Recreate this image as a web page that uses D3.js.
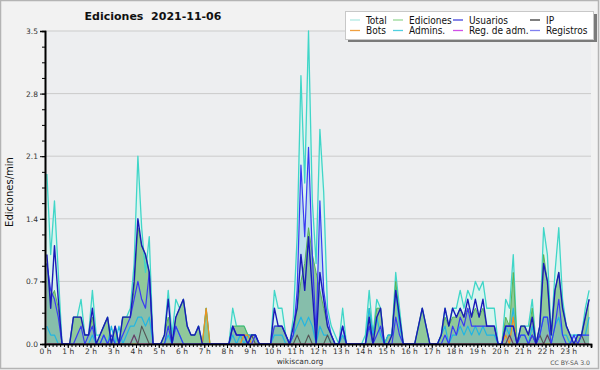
<!DOCTYPE html>
<html>
<head>
<meta charset="utf-8">
<script src="https://cdn.jsdelivr.net/npm/d3@7"></script>
<style>
  html, body { margin: 0; padding: 0; background: #f2f2f2; }
  svg { display: block; font-family: "DejaVu Sans", sans-serif; }
</style>
</head>
<body>
<div id="chart"></div>
<script>
// edits per minute, 10-minute bins (144 per day)
const total = [
  1.9,1.0,1.6,0.8,0,0,  0,0.3,0.3,0.5,0.1,0.1,  0.6,0.1,0.1,0.2,0.3,0,  0.2,0,0.3,0.3,0.4,0.9,
  2.1,1.3,0.8,1.2,0,0,  0,0.1,0.6,0.1,0.5,0.4,  0.5,0.2,0.1,0.1,0.2,0,  0.4,0,0,0,0,0,
  0,0.4,0.2,0.2,0.2,0.1,  0.1,0.1,0,0,0,0,  0.6,0.4,0.4,0.1,0,0.3,  1.2,3.0,1.8,3.5,1.6,0.9,
  2.4,1.7,0.4,0.2,0.1,0,  0.4,0,0,0,0,0,  0.1,0.6,0.1,0.5,0.4,0,  0.1,0.1,0.8,0.4,0,0,
  0,0,0.2,0.4,0.2,0,  0,0,0.1,0.4,0.2,0.4,  0.4,0.6,0.4,0.6,0.5,0.7,  0.6,0.7,0.4,0.4,0.4,0,
  0,0.5,0.4,1.0,0,0.2,  0.2,0.2,0.5,0,0.2,1.3,  1.0,0.1,0.8,1.3,0.5,0.2,  0.1,0.1,0.1,0.1,0.4,0.6
];
const ediciones = [
  0.9,0.5,0.6,0.4,0,0,  0,0.3,0.3,0.3,0.1,0.1,  0.3,0,0.1,0.2,0.3,0,  0.2,0,0.3,0.3,0.3,0.6,
  1.3,1.1,1.0,0.8,0,0,  0,0.1,0.3,0,0.3,0.4,  0.5,0.2,0.1,0.1,0.2,0,  0.4,0,0,0,0,0,
  0,0.2,0.2,0.2,0.2,0.1,  0.1,0.1,0,0,0,0,  0.2,0.2,0.2,0.1,0,0.1,  0.4,0.7,0.9,1.3,1.0,0.8,
  0.6,0.4,0.2,0.1,0,0,  0.1,0,0,0,0,0,  0,0.4,0.1,0.4,0.4,0,  0.1,0.1,0.7,0.3,0,0,
  0,0,0.2,0.4,0.2,0,  0,0,0.1,0.3,0.2,0.3,  0.3,0.4,0.3,0.4,0.3,0.4,  0.3,0.4,0.2,0.2,0.2,0,
  0,0.3,0.2,0.8,0,0.2,  0.2,0.1,0.4,0,0.2,1.0,  0.7,0.1,0.6,0.8,0.4,0.2,  0.1,0,0.1,0.1,0.3,0.5
];
const usuarios = [
  1.0,0.4,1.1,0.5,0,0,  0,0.3,0.3,0.3,0.1,0.1,  0.4,0,0.1,0.2,0.3,0,  0.2,0,0.3,0.3,0.3,0.7,
  1.4,1.1,1.0,0.8,0,0,  0,0.1,0.5,0,0.3,0.4,  0.5,0.2,0.1,0.1,0.2,0,  0,0,0,0,0,0,
  0,0.2,0.1,0.1,0.1,0,  0.1,0.1,0,0,0,0,  0.4,0.2,0.2,0.1,0,0.2,  0.4,1.0,0.6,1.2,0.6,0,
  0.8,0.5,0.2,0.1,0,0,  0.2,0,0,0,0,0,  0,0.3,0,0.3,0.4,0,  0,0.1,0.6,0.3,0,0,
  0,0,0.2,0.4,0.2,0,  0,0,0.1,0.4,0.2,0.4,  0.3,0.4,0.3,0.5,0.3,0.5,  0.3,0.5,0.2,0.2,0.2,0,
  0,0.2,0.2,0.2,0,0.2,  0.2,0.1,0.3,0,0.2,0.9,  0.7,0.1,0.6,0.8,0.4,0.2,  0.1,0,0.1,0.1,0.3,0.5
];
const registros = [
  0.9,0.6,0.5,0.3,0,0,  0,0,0.1,0.2,0,0.1,  0.2,0,0,0.1,0,0.1,  0,0,0.1,0.2,0.3,0.5,
  0.7,0.5,0.4,0.8,0,0,  0,0,0.2,0,0.2,0.1,  0,0,0,0,0,0,  0,0,0,0,0,0,
  0,0.2,0.1,0.1,0.1,0,  0,0.1,0,0,0,0,  0.2,0.2,0.2,0.1,0,0.1,  0.6,2.0,1.2,2.2,1.0,0.1,
  1.6,0.6,0.3,0.1,0,0,  0.2,0,0,0,0,0,  0,0.2,0,0.1,0.2,0,  0,0,0.3,0.1,0,0,
  0,0,0,0,0,0,  0,0,0,0.1,0,0.2,  0.1,0.3,0.2,0.4,0.2,0.2,  0.2,0.2,0.2,0.2,0.2,0,
  0,0.2,0.2,0.2,0,0.1,  0.1,0,0.1,0,0.1,0.3,  0.3,0,0.2,0.5,0.1,0,  0,0.1,0,0.1,0.1,0.1
];
const admins = [
  0.2,0.1,0.1,0,0,0,  0,0,0,0,0,0,  0.1,0,0,0.1,0,0.2,  0,0.2,0,0.1,0.2,0.2,
  0.3,0.3,0.2,0.3,0,0,  0,0,0.1,0,0.2,0.1,  0,0,0,0,0,0,  0,0,0,0,0,0,
  0,0.1,0,0.1,0,0.1,  0.1,0.1,0,0,0,0,  0.1,0.1,0.1,0,0,0.1,  0.2,0.3,0.2,0.3,0.2,0,
  0.2,0.1,0.1,0,0,0,  0.1,0,0,0,0,0,  0,0.4,0.1,0.3,0.1,0,  0.1,0.1,0.6,0.2,0,0,
  0,0,0,0,0,0,  0,0,0.1,0.2,0,0.1,  0.1,0.2,0.1,0.2,0.1,0.2,  0.1,0.2,0.1,0.1,0.1,0,
  0,0.2,0.1,0.4,0,0.1,  0.1,0,0.2,0,0.1,0.3,  0.3,0,0.2,0.3,0.1,0.1,  0,0.1,0.1,0.1,0.1,0.3
];
const ip = new Array(144).fill(0);
[[23,0.1],[25,0.2],[26,0.1],[54,0.1],[66,0.1],[69,0.1],[74,0.1],[122,0.1],[128,0.1],[130,0.1],[132,0.1],[141,0.1]]
  .forEach(([i, v]) => { ip[i] = v; });
const bots = new Array(144).fill(0);
[[42,0.4],[52,0.1],[53,0.1],[121,0.1],[123,0.3]].forEach(([i, v]) => { bots[i] = v; });
const regAdm = new Array(144).fill(0);
[[23,0.1],[122,0.1],[132,0.1]].forEach(([i, v]) => { regAdm[i] = v; });

const hourLabels = d3.range(24).map(h => h + " h");
const yMajor = [0, 0.7, 1.4, 2.1, 2.8, 3.5];

const legendItems = [
  { name: "Total", color: "#b0eae3" },
  { name: "Ediciones", color: "#98d898" },
  { name: "Usuarios", color: "#4444dd" },
  { name: "IP", color: "#3a3a3a" },
  { name: "Bots", color: "#f0a040" },
  { name: "Admins.", color: "#50d0e0" },
  { name: "Reg. de adm.", color: "#d050e8" },
  { name: "Registros", color: "#8080f0" }
];

const W = 600, H = 370;
const svg = d3.select("#chart").append("svg")
  .attr("width", W).attr("height", H);

svg.append("rect").attr("x", 0.5).attr("y", 0.5).attr("width", W - 2).attr("height", H - 2)
  .attr("fill", "#f2f2f2").attr("stroke", "#b4b4b4").attr("stroke-width", 1.5);

const x = d3.scaleLinear().domain([0, 1440]).range([45, 591]);
const y = d3.scaleLinear().domain([0, 3.5]).range([344, 31]);
const xi = i => x(i * 10 + 5);

svg.append("rect").attr("x", 45).attr("y", 31).attr("width", 546).attr("height", 313)
  .attr("fill", "#edeef0");

// grid
svg.append("g").selectAll("line").data(yMajor.slice(1)).enter().append("line")
  .attr("x1", 45).attr("x2", 591)
  .attr("y1", d => y(d)).attr("y2", d => y(d))
  .attr("stroke", "#cbcbcb").attr("stroke-width", 1);

svg.append("defs").append("clipPath").attr("id", "plot")
  .append("rect").attr("x", 45).attr("y", 30).attr("width", 546).attr("height", 314);

const plot = svg.append("g").attr("clip-path", "url(#plot)");

const area = d3.area().x((d, i) => xi(i)).y0(y(0)).y1(d => y(d));
const line = d3.line().x((d, i) => xi(i)).y(d => y(d));

plot.append("path").attr("d", area(total)).attr("fill", "#d9f4ef");
plot.append("path").attr("d", area(ediciones)).attr("fill", "#90c99a");
plot.append("path").attr("d", area(registros)).attr("fill", "rgba(100,150,230,0.22)");

const lines = [
  { data: total, color: "#40d6c8", w: 1.3 },
  { data: ediciones, color: "#58b458", w: 1 },
  { data: admins, color: "#22b6e2", w: 1.2 },
  { data: bots, color: "#f09020", w: 1.2 },
  { data: regAdm, color: "#c83ce0", w: 1.2 },
  { data: ip, color: "#555555", w: 1.1 },
  { data: registros, color: "#3a3af2", w: 1.2 },
  { data: usuarios, color: "#1a1ab8", w: 1.4 }
];
lines.forEach(s => {
  plot.append("path").attr("d", line(s.data)).attr("fill", "none")
    .attr("stroke", s.color).attr("stroke-width", s.w).attr("stroke-linejoin", "round");
});

// y axis
svg.append("g").attr("transform", "translate(45,0)")
  .call(d3.axisLeft(y).tickValues(yMajor).tickFormat(d3.format(".1f")).tickSize(5).tickPadding(2));
svg.append("g").attr("transform", "translate(45,0)")
  .call(d3.axisLeft(y).tickValues(d3.range(0, 3.51, 0.175)).tickFormat("").tickSize(3));

// x axis
svg.append("g").attr("transform", "translate(0,344)")
  .call(d3.axisBottom(x).tickValues(d3.range(0, 1441, 10)).tickFormat("").tickSize(3));
svg.append("g").attr("transform", "translate(0,344)")
  .call(d3.axisBottom(x).tickValues(d3.range(0, 1440, 60)).tickFormat((d, i) => hourLabels[i])
    .tickSize(4).tickPadding(1));

svg.selectAll(".domain").attr("stroke", "#000").attr("stroke-width", 1.6);
svg.selectAll(".tick line").attr("stroke", "#000");
svg.selectAll(".tick text").attr("fill", "#333").style("font-size", "7.5px")
  .style("font-family", "DejaVu Sans");

svg.append("text").attr("transform", "translate(13,192) rotate(-90)")
  .attr("text-anchor", "middle").style("font-size", "10px").attr("fill", "#111")
  .text("Ediciones/min");

svg.append("text").attr("x", 153).attr("y", 20).attr("text-anchor", "middle")
  .style("font-size", "11px").style("font-weight", "bold").style("white-space", "pre")
  .attr("fill", "#111")
  .text("Ediciones  2021-11-06");

svg.append("text").attr("x", 300).attr("y", 364).attr("text-anchor", "middle")
  .style("font-size", "7.5px").attr("fill", "#333").text("wikiscan.org");
svg.append("text").attr("x", 590).attr("y", 365).attr("text-anchor", "end")
  .style("font-size", "6.2px").attr("fill", "#555").text("CC BY-SA 3.0");

// legend
const lg = svg.append("g");
lg.append("rect").attr("x", 348).attr("y", 14).attr("width", 249).attr("height", 28).attr("fill", "#7a7a7a");
lg.append("rect").attr("x", 345.5).attr("y", 11.5).attr("width", 248).attr("height", 28)
  .attr("fill", "#fff").attr("stroke", "#c8c8c8");
const colX = [350, 393, 453, 530];
legendItems.forEach((d, i) => {
  const cx = colX[i % 4], cy = i < 4 ? 20 : 30.5;
  lg.append("line").attr("x1", cx).attr("x2", cx + 10).attr("y1", cy).attr("y2", cy)
    .attr("stroke", d.color).attr("stroke-width", 1.3);
  lg.append("text").attr("x", cx + 16).attr("y", cy + 3.5)
    .style("font-family", "DejaVu Sans Condensed, DejaVu Sans").style("font-size", "10px")
    .attr("fill", "#111").text(d.name);
});
</script>
</body>
</html>
